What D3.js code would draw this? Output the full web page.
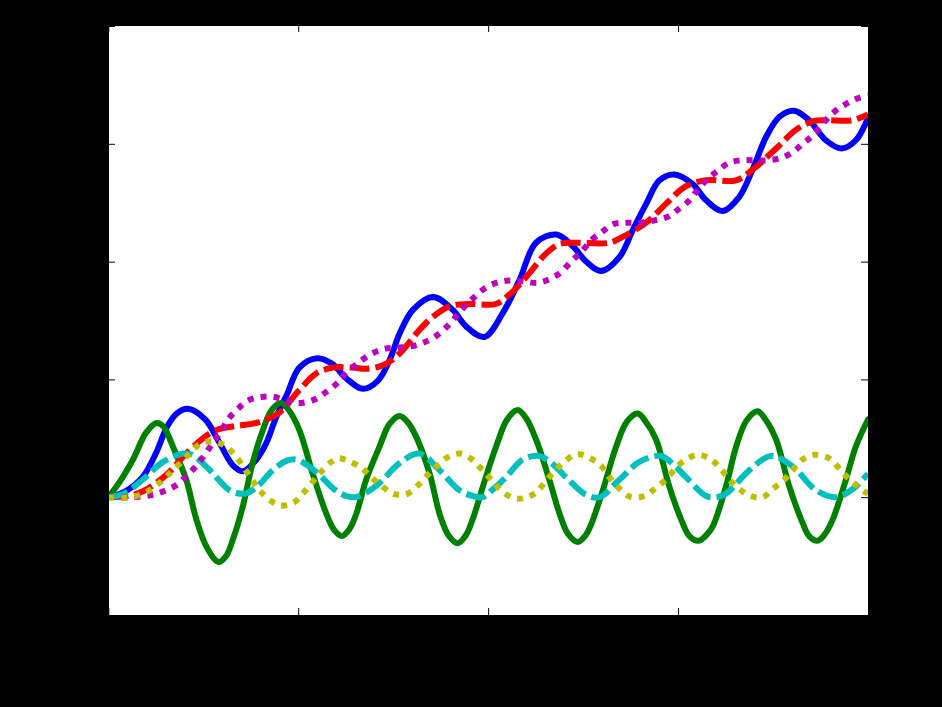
<!DOCTYPE html>
<html>
<head>
<meta charset="utf-8">
<script src="https://cdn.jsdelivr.net/npm/d3@7"></script>
<style>
  html, body { margin: 0; padding: 0; background: #000; }
  svg { display: block; }
</style>
</head>
<body>
<svg id="chart" width="942" height="707"></svg>
<script>
// ---------- data ----------
const xTicks = [0, 5, 10, 15, 20];
const yTicks = [-1, 0, 1, 2, 3, 4];
const xLabel = "Time, s";
const yLabel = "State variables";

// blue solid
const x1 = [[0,0],[0.45,0.05],[0.9,0.17],[1.25,0.37],[1.55,0.6],[1.8,0.71],[2.1,0.75],[2.55,0.66],[2.93,0.46],[3.28,0.27],[3.55,0.22],[3.9,0.32],[4.16,0.46],[4.42,0.68],[4.7,0.87],[5.03,1.1],[5.5,1.18],[5.9,1.13],[6.26,1.01],[6.7,0.92],[7.1,0.99],[7.4,1.16],[7.67,1.39],[8.02,1.59],[8.55,1.70],[9.07,1.59],[9.42,1.45],[9.9,1.36],[10.38,1.56],[10.82,1.84],[11.26,2.16],[11.8,2.23],[12.23,2.13],[12.58,2.0],[12.97,1.92],[13.46,2.04],[13.81,2.27],[14.16,2.49],[14.51,2.69],[14.9,2.74],[15.38,2.66],[15.74,2.52],[16.17,2.43],[16.61,2.55],[16.96,2.78],[17.32,3.06],[17.67,3.23],[18.05,3.28],[18.45,3.2],[18.89,3.03],[19.3,2.96],[19.68,3.03],[20,3.22]];
// green solid
const v1 = [[0,0],[0.3,0.13],[0.65,0.32],[1.0,0.55],[1.27,0.63],[1.45,0.6],[1.7,0.43],[2.05,0.15],[2.32,-0.19],[2.6,-0.43],[2.9,-0.55],[3.1,-0.5],[3.28,-0.36],[3.54,-0.08],[3.8,0.29],[4.07,0.57],[4.3,0.74],[4.55,0.80],[4.75,0.74],[5.03,0.57],[5.38,0.2],[5.74,-0.14],[5.95,-0.28],[6.15,-0.33],[6.35,-0.27],[6.53,-0.14],[6.79,0.15],[7.14,0.43],[7.4,0.62],[7.67,0.69],[7.9,0.63],[8.11,0.51],[8.46,0.2],[8.72,-0.14],[8.95,-0.32],[9.2,-0.39],[9.4,-0.33],[9.59,-0.19],[9.86,0.09],[10.21,0.43],[10.5,0.66],[10.78,0.74],[11.0,0.67],[11.26,0.49],[11.61,0.15],[11.88,-0.14],[12.1,-0.31],[12.36,-0.38],[12.55,-0.33],[12.7,-0.24],[13.02,0.06],[13.37,0.43],[13.65,0.64],[13.94,0.71],[14.15,0.64],[14.42,0.49],[14.77,0.09],[15.12,-0.22],[15.3,-0.33],[15.54,-0.37],[15.75,-0.32],[15.91,-0.25],[16.26,0.09],[16.53,0.43],[16.8,0.65],[17.09,0.73],[17.3,0.66],[17.58,0.49],[17.93,0.09],[18.28,-0.22],[18.45,-0.33],[18.67,-0.37],[18.85,-0.32],[19.07,-0.19],[19.42,0.15],[19.68,0.43],[20,0.66]];
// red dashed
const x2 = [[0,0],[0.5,0.01],[0.91,0.05],[1.53,0.19],[1.96,0.34],[2.49,0.5],[2.84,0.57],[3.28,0.6],[3.89,0.63],[4.16,0.66],[4.51,0.72],[5.03,0.91],[5.47,1.05],[5.91,1.1],[6.44,1.1],[6.79,1.09],[7.23,1.12],[7.67,1.22],[8.19,1.42],[8.54,1.53],[8.98,1.62],[9.5,1.64],[10.2,1.64],[10.56,1.72],[11.0,1.87],[11.53,2.07],[11.88,2.15],[12.3,2.16],[13.19,2.16],[13.54,2.21],[14.16,2.33],[14.68,2.49],[15.21,2.64],[15.74,2.69],[16.53,2.69],[16.96,2.78],[17.58,2.96],[18.11,3.12],[18.54,3.19],[18.89,3.2],[19.59,3.2],[20,3.25]];
// cyan dashed
const v2 = [[0,0],[0.4,0.03],[0.91,0.15],[1.44,0.3],[1.96,0.37],[2.2,0.36],[2.58,0.26],[2.9,0.15],[3.19,0.06],[3.6,0.03],[3.95,0.1],[4.33,0.23],[4.7,0.31],[4.95,0.32],[5.2,0.28],[5.56,0.19],[5.9,0.08],[6.26,0.01],[6.5,0.0],[6.8,0.04],[7.14,0.12],[7.67,0.29],[8.19,0.37],[8.72,0.23],[9.24,0.06],[9.6,0.01],[9.86,0.0],[10.1,0.06],[10.47,0.17],[10.91,0.32],[11.35,0.35],[11.7,0.28],[12.05,0.17],[12.58,0.02],[12.93,0.0],[13.46,0.15],[13.98,0.3],[14.55,0.35],[14.9,0.27],[15.21,0.17],[15.74,0.01],[16.0,0.0],[16.26,0.03],[16.88,0.23],[17.45,0.35],[18.02,0.26],[18.63,0.06],[19.16,0.0],[19.6,0.07],[20,0.2]];
// magenta dotted
const x3 = [[0,0],[0.6,0.0],[1.17,0.02],[1.53,0.06],[1.83,0.11],[2.08,0.19],[2.33,0.27],[2.56,0.37],[2.77,0.47],[2.97,0.56],[3.15,0.66],[3.41,0.75],[3.67,0.82],[4.03,0.85],[4.38,0.85],[4.73,0.81],[5.08,0.8],[5.43,0.83],[5.72,0.89],[6.0,0.96],[6.22,1.04],[6.66,1.16],[6.95,1.22],[7.27,1.26],[7.62,1.27],[7.97,1.28],[8.28,1.31],[8.59,1.36],[8.89,1.44],[9.14,1.53],[9.38,1.62],[9.64,1.70],[9.9,1.77],[10.21,1.82],[10.56,1.84],[10.96,1.83],[11.31,1.82],[11.61,1.85],[11.92,1.91],[12.18,2.0],[12.45,2.08],[12.71,2.18],[13.03,2.26],[13.32,2.32],[13.63,2.33],[14.03,2.33],[14.38,2.35],[14.73,2.38],[14.99,2.44],[15.3,2.52],[15.47,2.59],[15.74,2.69],[16.04,2.77],[16.35,2.84],[16.68,2.86],[17.01,2.86],[17.36,2.86],[17.71,2.88],[18.02,2.93],[18.28,3.0],[18.54,3.07],[18.81,3.17],[19.07,3.26],[19.38,3.33],[19.68,3.38],[20,3.41]];
// yellow dotted
const v3 = [[0,0],[0.6,0.0],[1.09,0.06],[1.61,0.2],[2.14,0.37],[2.45,0.46],[2.8,0.47],[3.1,0.43],[3.37,0.34],[3.76,0.16],[3.98,0.06],[4.24,-0.02],[4.51,-0.07],[4.86,-0.05],[5.12,0.03],[5.38,0.13],[5.62,0.22],[5.87,0.3],[6.05,0.33],[6.22,0.32],[6.66,0.25],[6.92,0.17],[7.18,0.1],[7.49,0.03],[7.7,0.02],[7.88,0.03],[8.15,0.1],[8.41,0.19],[8.67,0.27],[8.94,0.34],[9.26,0.37],[9.58,0.32],[9.82,0.24],[10.08,0.15],[10.3,0.07],[10.61,0.0],[10.91,-0.01],[11.26,0.04],[11.48,0.12],[11.74,0.22],[12.01,0.3],[12.27,0.36],[12.5,0.36],[12.75,0.32],[13.02,0.25],[13.24,0.15],[13.5,0.06],[13.76,0.0],[14.11,0.01],[14.42,0.08],[14.68,0.15],[14.95,0.25],[15.21,0.32],[15.54,0.36],[15.87,0.32],[16.13,0.24],[16.35,0.15],[16.61,0.07],[16.92,0.01],[17.23,0.0],[17.49,0.07],[17.8,0.15],[18.02,0.23],[18.28,0.32],[18.59,0.36],[18.98,0.33],[19.33,0.21],[19.59,0.13],[19.85,0.06],[20,0.03]];

const seriesList = [
  { data: x1, color: "#0000ff", dash: null },
  { data: v1, color: "#008000", dash: null },
  { data: x2, color: "#ff0000", dash: "20,6" },
  { data: v2, color: "#00bfbf", dash: "20,6" },
  { data: x3, color: "#bf00bf", dash: "6,7" },
  { data: v3, color: "#bfbf00", dash: "6,7" }
];

// ---------- layout ----------
const svg = d3.select("#chart");
const W = 942, H = 707;
const bLeft = 108, bRight = 868, bTop = 25, bBottom = 615;   // axes box (pixel-aligned)

svg.append("rect").attr("width", W).attr("height", H).attr("fill", "#000");
svg.append("rect").attr("x", bLeft).attr("y", bTop)
  .attr("width", bRight - bLeft).attr("height", bBottom - bTop).attr("fill", "#fff");

const x = d3.scaleLinear().domain([0, 20]).range([108.3, 868]);
const y = d3.scaleLinear().domain([-1, 4]).range([615, 26]);

svg.append("defs").append("clipPath").attr("id", "clip")
  .append("rect").attr("x", bLeft + 1).attr("y", bTop + 1)
  .attr("width", bRight - bLeft - 1).attr("height", bBottom - bTop - 1);

const fmt = d => String(d);
const tickLen = 7;

// axes (black ticks inward, black labels on the black figure background)
const axB = svg.append("g").attr("transform", `translate(0,${bBottom})`)
  .call(d3.axisBottom(x).tickValues(xTicks).tickFormat(fmt).tickSizeInner(-tickLen).tickSizeOuter(0).tickPadding(14));
const axT = svg.append("g").attr("transform", `translate(0,${bTop})`)
  .call(d3.axisTop(x).tickValues(xTicks).tickFormat("").tickSizeInner(-tickLen).tickSizeOuter(0));
const axL = svg.append("g").attr("transform", `translate(${bLeft},0)`)
  .call(d3.axisLeft(y).tickValues(yTicks).tickFormat(fmt).tickSizeInner(-tickLen).tickSizeOuter(0).tickPadding(10));
const axR = svg.append("g").attr("transform", `translate(${bRight},0)`)
  .call(d3.axisRight(y).tickValues(yTicks).tickFormat("").tickSizeInner(-tickLen).tickSizeOuter(0));

[axB, axT, axL, axR].forEach(g => {
  g.select(".domain").attr("stroke", "#000").attr("stroke-width", 1);
  g.selectAll(".tick line").attr("stroke", "#000").attr("stroke-width", 1);
  g.selectAll(".tick text")
    .attr("fill", "#000")
    .style("font-family", "'Liberation Sans', Arial, sans-serif")
    .style("font-size", "33px");
});
axB.selectAll(".tick text").attr("dy", "0.71em");
axL.selectAll(".tick text").attr("dy", "0.36em");

// lines
const line = d3.line()
  .x(d => x(d[0]))
  .y(d => y(d[1]))
  .curve(d3.curveCatmullRom.alpha(0.5));

const plot = svg.append("g").attr("clip-path", "url(#clip)");
seriesList.forEach(s => {
  plot.append("path")
    .datum(s.data)
    .attr("d", line)
    .attr("fill", "none")
    .attr("stroke", s.color)
    .attr("stroke-width", 6)
    .attr("stroke-linejoin", "round")
    .attr("stroke-linecap", s.dash ? "butt" : "round")
    .attr("stroke-dasharray", s.dash);
});

// axis titles
svg.append("text")
  .attr("x", 486)
  .attr("y", 692)
  .attr("text-anchor", "middle")
  .attr("fill", "#000")
  .style("font-family", "'Liberation Sans', Arial, sans-serif")
  .style("font-size", "38px")
  .text(xLabel);

svg.append("text")
  .attr("transform", `translate(51,320) rotate(-90)`)
  .attr("text-anchor", "middle")
  .attr("fill", "#000")
  .style("font-family", "'Liberation Sans', Arial, sans-serif")
  .style("font-size", "38px")
  .text(yLabel);
</script>
</body>
</html>
